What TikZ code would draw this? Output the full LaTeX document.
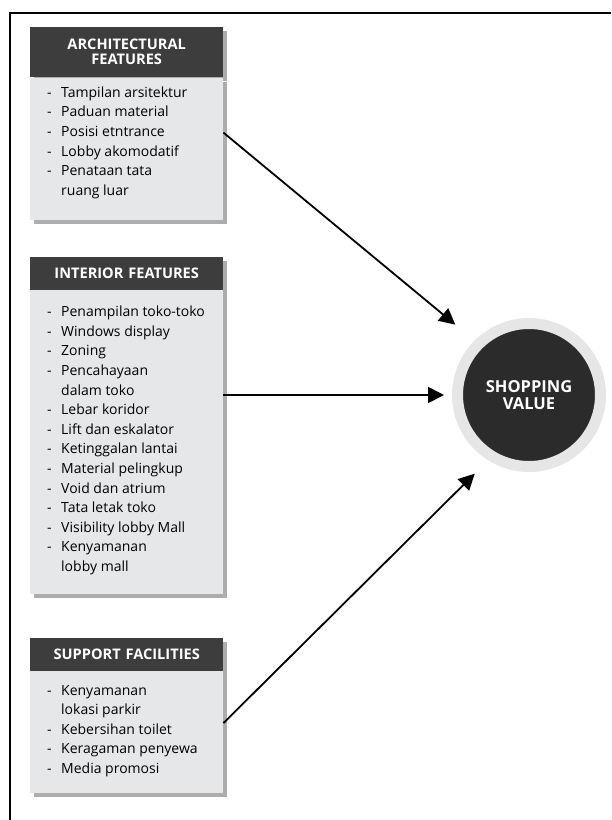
\documentclass[tikz,border=0pt]{standalone}
\usepackage{fontspec}
\setmainfont{Open Sans}
\usetikzlibrary{positioning,arrows.meta,shadows}
\definecolor{HeadGray}{HTML}{3D3D3D}
\definecolor{BodyGray}{HTML}{E6E7E8}
\definecolor{ShadeGray}{HTML}{ADADAD}
\definecolor{CoreDark}{HTML}{2B2B2B}
\definecolor{RingGray}{HTML}{E6E6E6}
\newcommand{\entry}[1]{\makebox[14pt][l]{-}#1}
\newcommand{\entrycont}[1]{\hspace*{14pt}#1}

\begin{document}
\begin{tikzpicture}[x=1pt, y=-1pt,
  shade/.style={drop shadow={shadow xshift=4pt, shadow yshift=-4pt, fill=ShadeGray, opacity=1}},
  head/.style={shade, fill=HeadGray, text=white, anchor=north west, text width=180pt,
               inner xsep=6.5pt, inner ysep=0pt, align=center,
               font=\fontsize{14.6}{15}\selectfont\bfseries},
  panel/.style={shade, fill=BodyGray, minimum width=193pt, inner sep=0pt},
  items/.style={anchor=north west, inner sep=0pt, align=left,
                font=\fontsize{14}{19.6}\selectfont},
  core/.style={circle, fill=CoreDark, draw=RingGray, line width=11pt, minimum size=143pt,
               inner sep=0pt, text=white, align=center,
               font=\fontsize{16.5}{16.5}\selectfont\bfseries},
  link/.style={-{Triangle[length=16pt,width=16pt]}, line width=1.8pt},
]
\useasboundingbox (0,0) rectangle (611,820);
\draw[line width=1.3pt] (10,820) -- (10,13) -- (611,13);

% architectural features
\node[head, minimum height=50pt] (ah) at (30,27) {ARCHITECTURAL\\FEATURES};
\node[panel, minimum height=142pt, below=0pt of ah] (ab) {};
\node[items] (al) at ([shift={(17pt,-9pt)}]ab.north west)
  {\entry{Tampilan arsitektur}\\ \entry{Paduan material}\\ \entry{Posisi etntrance}\\
   \entry{Lobby akomodatif}\\ \entry{Penataan tata}\\ \entrycont{ruang luar}};

% interior features
\node[head, minimum height=32.5pt] (ih) at (30,257) {INTERIOR FEATURES};
\node[panel, minimum height=304pt, below=0pt of ih] (ib) {};
\node[items] (il) at ([shift={(17pt,-16pt)}]ib.north west)
  {\entry{Penampilan toko-toko}\\ \entry{Windows display}\\ \entry{Zoning}\\
   \entry{Pencahayaan}\\ \entrycont{dalam toko}\\ \entry{Lebar koridor}\\
   \entry{Lift dan eskalator}\\ \entry{Ketinggalan lantai}\\ \entry{Material pelingkup}\\
   \entry{Void dan atrium}\\ \entry{Tata letak toko}\\ \entry{Visibility lobby Mall}\\
   \entry{Kenyamanan}\\ \entrycont{lobby mall}};

% support facilities
\node[head, minimum height=32.5pt] (sh) at (30,638) {SUPPORT FACILITIES};
\node[panel, minimum height=122pt, below=0pt of sh] (sb) {};
\node[items] (sl) at ([shift={(17pt,-14pt)}]sb.north west)
  {\entry{Kenyamanan}\\ \entrycont{lokasi parkir}\\ \entry{Kebersihan toilet}\\
   \entry{Keragaman penyewa}\\ \entry{Media promosi}};

% shopping value
\node[core] (sv) at (529,395) {SHOPPING\\VALUE};

\draw[link, shorten >=25pt] ([yshift=16pt]ab.east) -- (sv.135);
\draw[link, shorten >=8pt] (sv -| ib.east) -- (sv.west);
\draw[link, shorten >=19pt] ([yshift=9pt]sb.east) -- (sv.238);
\end{tikzpicture}
\end{document}
